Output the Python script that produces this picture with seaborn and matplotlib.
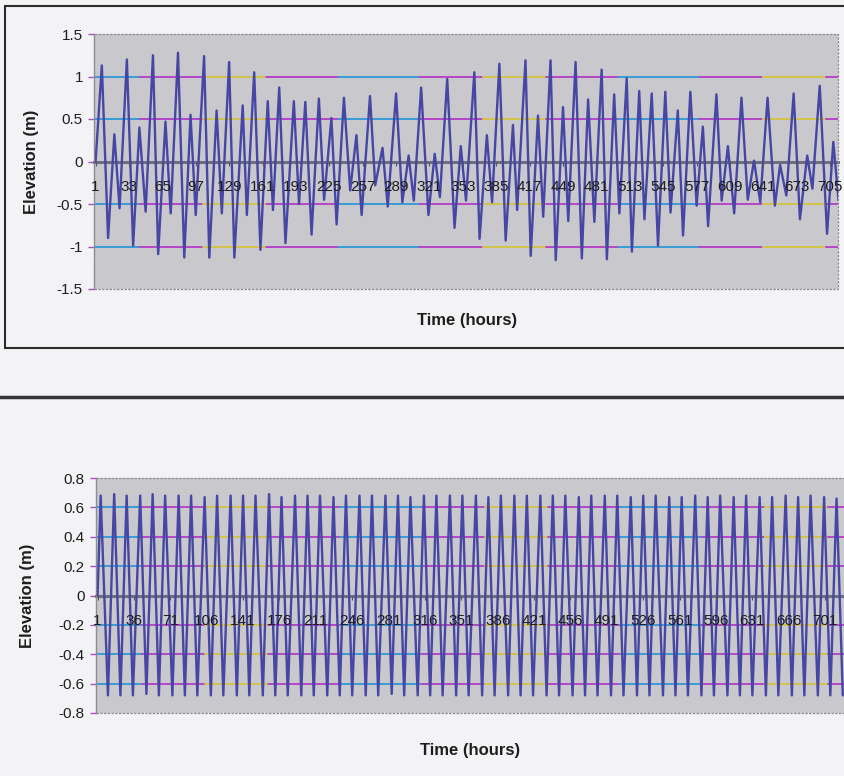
import numpy as np
import pandas as pd
import matplotlib
matplotlib.use('Agg')
import matplotlib.pyplot as plt
import seaborn as sns
from matplotlib.lines import Line2D
from matplotlib.patches import Rectangle

top_hours = [1, 7, 13, 19, 24, 31, 37, 43, 49, 56,
             61, 68, 73, 80, 86, 92, 97, 105, 110, 117,
             122, 129, 134, 142, 146, 153, 159, 166, 171, 177,
             183, 191, 196, 202, 208, 215, 220, 227, 232, 239,
             245, 251, 256, 264, 269, 276, 281, 289, 295, 301,
             306, 313, 320, 326, 331, 338, 345, 351, 356, 364,
             369, 376, 381, 388, 394, 401, 405, 413, 418, 425,
             430, 437, 442, 449, 454, 461, 467, 473, 479, 486,
             491, 498, 503, 510, 515, 522, 527, 534, 540, 547,
             552, 559, 564, 571, 577, 583, 588, 596, 601, 607,
             613, 620, 626, 632, 638, 645, 652, 657, 663, 670,
             676, 683, 688, 695, 702, 708, 713]
top_elev = [0.0, 1.13, -0.90, 0.32, -0.55, 1.20, -0.99, 0.40, -0.59, 1.25,
            -1.09, 0.47, -0.61, 1.28, -1.13, 0.55, -0.63, 1.24, -1.13, 0.60,
            -0.61, 1.17, -1.13, 0.66, -0.63, 1.05, -1.04, 0.71, -0.57, 0.87,
            -0.96, 0.71, -0.50, 0.70, -0.86, 0.74, -0.45, 0.51, -0.74, 0.75,
            -0.34, 0.31, -0.63, 0.77, -0.28, 0.16, -0.53, 0.80, -0.48, 0.07,
            -0.46, 0.87, -0.63, 0.09, -0.42, 0.97, -0.78, 0.18, -0.46, 1.05,
            -0.91, 0.31, -0.48, 1.15, -0.93, 0.43, -0.57, 1.19, -1.11, 0.54,
            -0.65, 1.19, -1.16, 0.64, -0.70, 1.17, -1.14, 0.73, -0.71, 1.08,
            -1.15, 0.79, -0.61, 0.98, -1.06, 0.83, -0.68, 0.80, -0.99, 0.82,
            -0.60, 0.60, -0.87, 0.82, -0.52, 0.41, -0.76, 0.79, -0.46, 0.18,
            -0.61, 0.75, -0.45, 0.01, -0.48, 0.75, -0.52, -0.04, -0.40, 0.80,
            -0.68, 0.07, -0.32, 0.89, -0.85, 0.23, -0.46]

# bottom chart: M2 only, high and low waters
bot_start = [(1, 0.0)]
bot_high_hours = [4, 17, 29, 42, 54, 66, 79, 91, 104, 116,
                  129, 141, 153, 166, 178, 191, 203, 215, 228, 240,
                  253, 265, 278, 290, 302, 315, 327, 340, 352, 365,
                  377, 389, 402, 414, 427, 439, 451, 464, 476, 489,
                  501, 514, 526, 538, 551, 563, 576, 588, 600, 613,
                  625, 638, 650, 663, 675, 687, 700, 712]
bot_high_elev = [0.68, 0.69, 0.68, 0.68, 0.69, 0.68, 0.68, 0.68, 0.67, 0.68,
                 0.68, 0.68, 0.68, 0.69, 0.67, 0.68, 0.68, 0.68, 0.67, 0.68,
                 0.68, 0.68, 0.68, 0.68, 0.67, 0.68, 0.68, 0.68, 0.68, 0.68,
                 0.67, 0.68, 0.68, 0.68, 0.68, 0.68, 0.68, 0.67, 0.68, 0.68,
                 0.68, 0.67, 0.68, 0.68, 0.67, 0.67, 0.68, 0.67, 0.68, 0.67,
                 0.68, 0.67, 0.67, 0.68, 0.67, 0.68, 0.67, 0.66]
bot_low_hours = [11, 23, 35, 48, 60, 73, 85, 97, 110, 122,
                 135, 147, 160, 172, 184, 197, 209, 222, 234, 246,
                 259, 271, 284, 296, 309, 321, 333, 346, 358, 371,
                 383, 396, 408, 420, 433, 445, 458, 470, 482, 495,
                 507, 520, 532, 545, 557, 569, 582, 594, 607, 619,
                 631, 644, 656, 669, 681, 694, 706, 718]
bot_low_elev = [-0.68, -0.68, -0.68, -0.67, -0.68, -0.68, -0.68, -0.68, -0.68, -0.68,
                -0.68, -0.68, -0.68, -0.68, -0.68, -0.68, -0.68, -0.68, -0.68, -0.68,
                -0.68, -0.68, -0.67, -0.68, -0.68, -0.68, -0.68, -0.68, -0.68, -0.68,
                -0.68, -0.68, -0.68, -0.68, -0.68, -0.68, -0.68, -0.68, -0.68, -0.68,
                -0.68, -0.68, -0.68, -0.68, -0.68, -0.68, -0.68, -0.68, -0.68, -0.68,
                -0.68, -0.68, -0.68, -0.68, -0.68, -0.68, -0.68, -0.68]

top_xticks = list(range(1, 706, 32))
bot_xticks = list(range(1, 702, 35))
top_yticks = [1.5, 1, 0.5, 0, -0.5, -1, -1.5]
bot_yticks = [0.8, 0.6, 0.4, 0.2, 0, -0.2, -0.4, -0.6, -0.8]

top_df = pd.DataFrame({'hour': top_hours, 'elev': top_elev})
bot_df = pd.concat([
    pd.DataFrame(bot_start, columns=['hour', 'elev']),
    pd.DataFrame({'hour': bot_high_hours, 'elev': bot_high_elev}),
    pd.DataFrame({'hour': bot_low_hours, 'elev': bot_low_elev}),
]).sort_values('hour')

sns.set_theme(style='white')
plt.rcParams['font.family'] = ['Liberation Sans', 'DejaVu Sans']
plt.rcParams['axes.unicode_minus'] = False

W, H = 845, 776
LINE = '#4646a4'
TXT = '#1e1e1e'

fig = plt.figure(figsize=(W / 100, H / 100), dpi=100)
fig.patch.set_facecolor('#f3f3f6')


def px_axes(left, top, right, bottom):
    return fig.add_axes([left / W, 1 - bottom / H, (right - left) / W, (bottom - top) / H])


def fmt(v):
    v = round(v, 1) + 0.0
    return f'{v:g}'


def draw_chart(ax, df, yticks, xticks, xlim):
    ax.set_facecolor('#c8c8cd')
    lo, hi = min(yticks), max(yticks)
    # scanned excel gridlines: magenta with cyan / yellow stretches
    for y in yticks:
        if y in (0, lo, hi):
            continue
        ax.axhline(y, color='#b43cc8', lw=1.3, zorder=1)
        ax.axhline(y, color='#2fa6d8', lw=1.3, ls=(20, (45, 110)), zorder=1)
        ax.axhline(y, color='#d6d140', lw=1.3, ls=(95, (35, 120)), zorder=1)
    sns.lineplot(data=df, x='hour', y='elev', ax=ax, color=LINE, lw=1.7,
                 sort=False, zorder=5)
    ax.set_xlim(*xlim)
    ax.set_ylim(lo, hi)
    ax.set_xlabel('')
    ax.set_ylabel('')
    ax.set_yticks(yticks)
    ax.set_yticklabels([fmt(v) for v in yticks])
    ax.set_xticks(xticks)
    ax.set_xticklabels([str(t) for t in xticks])
    for s in ['top', 'right']:
        ax.spines[s].set_visible(False)
    ax.spines['left'].set_color('#8c8c92')
    ax.spines['left'].set_linewidth(0.9)
    ax.spines['bottom'].set_position(('data', 0))
    ax.spines['bottom'].set_color('#6e6e7a')
    ax.spines['bottom'].set_linewidth(2.2)
    ax.spines['bottom'].set_zorder(4)
    ax.xaxis.set_zorder(6)
    ax.add_patch(Rectangle((0, 0), 1, 1, transform=ax.transAxes, fill=False,
                           edgecolor='#8c8c92', lw=0.9, ls=(0, (2, 1)),
                           clip_on=False, zorder=6))
    ax.tick_params(axis='y', left=True, length=4, width=1, color='#b04cc0',
                   labelsize=11, labelcolor=TXT, pad=4)
    ax.tick_params(axis='x', bottom=True, length=3, width=0.8, color='#555560',
                   labelsize=11, labelcolor=TXT, pad=10.5)


ax1 = px_axes(94, 34, 838, 289)
draw_chart(ax1, top_df, top_yticks, top_xticks, (-0.5, 712.5))

ax2 = px_axes(96, 478, 848, 713)
draw_chart(ax2, bot_df, bot_yticks, bot_xticks, (-0.5, 723))

fig.text(32 / W, 1 - 162 / H, 'Elevation (m)', rotation=90, ha='center', va='center',
         fontsize=12, fontweight='bold', color=TXT)
fig.text(467 / W, 1 - 320 / H, 'Time (hours)', ha='center', va='center',
         fontsize=12, fontweight='bold', color=TXT)
fig.text(28 / W, 1 - 596 / H, 'Elevation (m)', rotation=90, ha='center', va='center',
         fontsize=12, fontweight='bold', color=TXT)
fig.text(470 / W, 1 - 750 / H, 'Time (hours)', ha='center', va='center',
         fontsize=12, fontweight='bold', color=TXT)


# frames of the scanned figures
def hline(y, x0, x1, lw, c='#2b2b2b'):
    fig.add_artist(Line2D([x0 / W, x1 / W], [1 - y / H, 1 - y / H], color=c, lw=lw))


hline(6, 5, W, 1.5)
hline(348, 5, W, 1.5)
fig.add_artist(Line2D([5 / W, 5 / W], [1 - 6 / H, 1 - 348 / H], color='#2b2b2b', lw=1.5))
hline(397, 0, W, 2.5, '#333338')

fig.savefig('out.png', dpi=100, facecolor=fig.get_facecolor())
